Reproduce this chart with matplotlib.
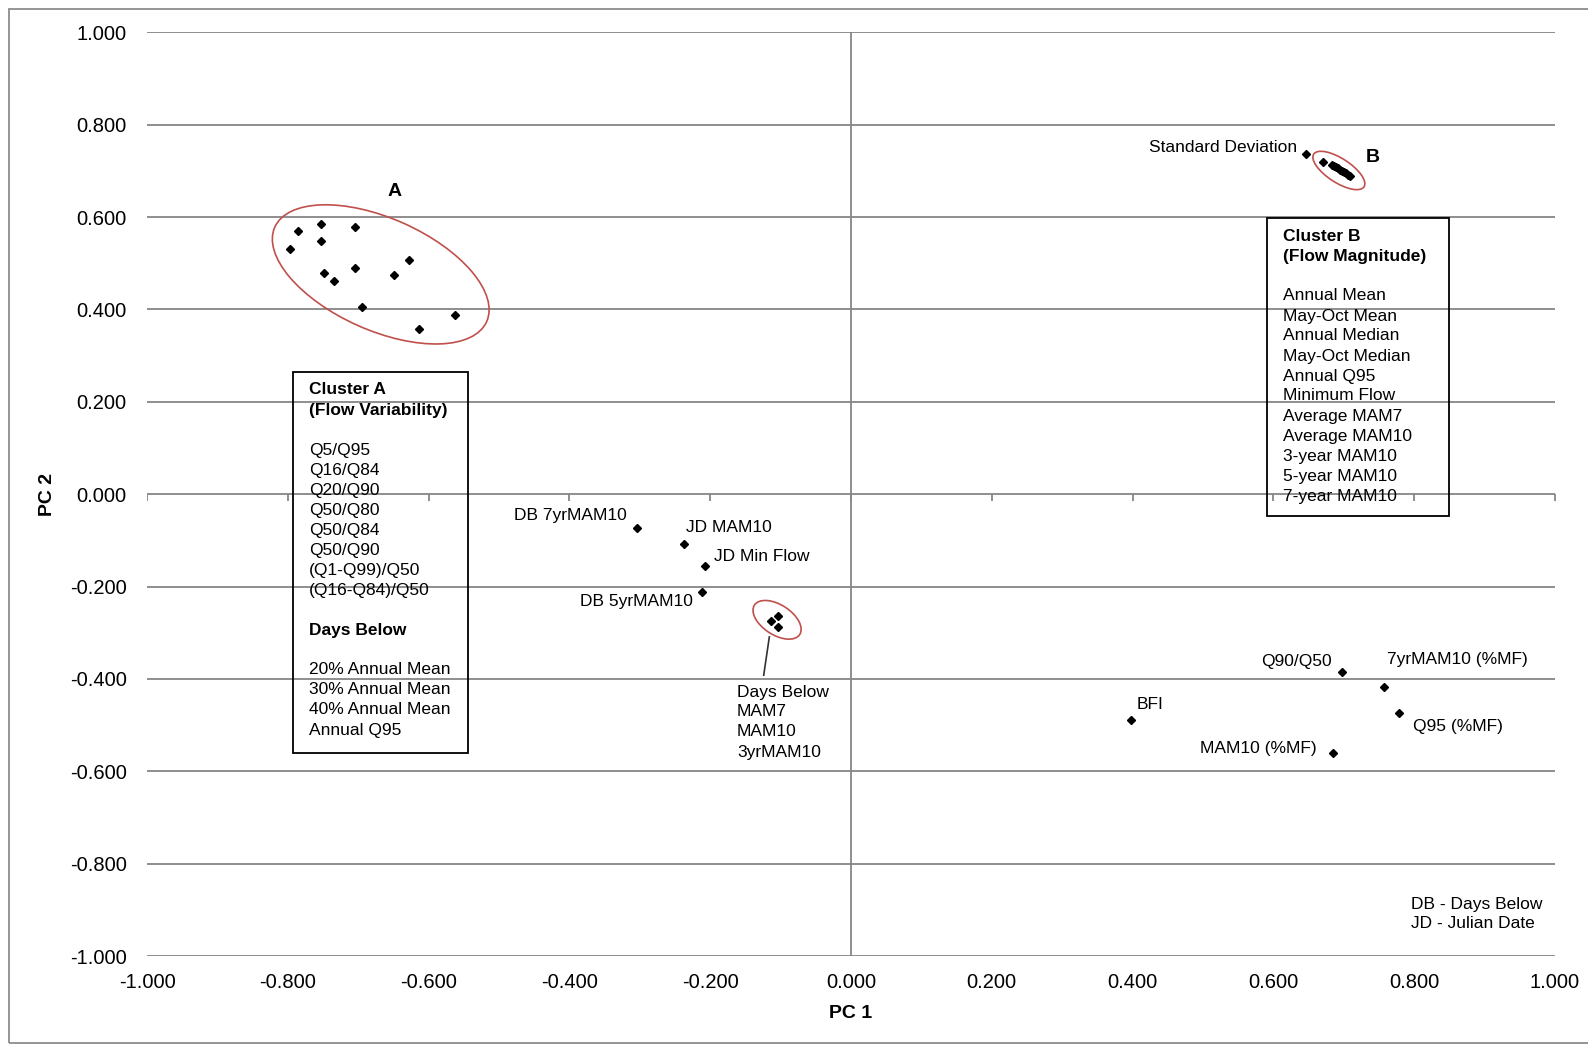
import matplotlib
matplotlib.use("Agg")
import matplotlib.pyplot as plt
import numpy as np
from matplotlib.patches import Ellipse, Rectangle
from matplotlib.transforms import ScaledTranslation

plt.rcParams['font.family'] = ['Liberation Sans', 'DejaVu Sans']

# cluster A (flow variability) and cluster B (flow magnitude) scores
clusterA_x = [-0.785, -0.753, -0.704, -0.797, -0.753, -0.628, -0.748, -0.704, -0.649, -0.734, -0.695, -0.562, -0.613]
clusterA_y = [0.571, 0.585, 0.578, 0.531, 0.549, 0.507, 0.479, 0.489, 0.475, 0.462, 0.405, 0.387, 0.358]
clusterB_x = [0.671, 0.683, 0.686, 0.689, 0.692, 0.694, 0.697, 0.700, 0.703, 0.706, 0.709]
clusterB_y = [0.720, 0.713, 0.711, 0.708, 0.707, 0.703, 0.700, 0.698, 0.696, 0.692, 0.689]
# days below MAM7 / MAM10 / 3yrMAM10
days_x = [-0.113, -0.103, -0.104]
days_y = [-0.274, -0.263, -0.288]

# single labelled points
names = ['Standard Deviation', 'DB 7yrMAM10', 'JD MAM10', 'JD Min Flow', 'DB 5yrMAM10',
         'Q90/Q50', '7yrMAM10 (%MF)', 'Q95 (%MF)', 'BFI', 'MAM10 (%MF)']
pts_x = [0.647, -0.304, -0.237, -0.208, -0.211, 0.697, 0.757, 0.778, 0.398, 0.685]
pts_y = [0.737, -0.074, -0.108, -0.155, -0.211, -0.384, -0.417, -0.473, -0.488, -0.561]
# label offsets in pixels (up positive) and alignment
offs = [(-9, 6, 'right'), (-10, 13, 'right'), (2, 17, 'left'), (9, 9, 'left'), (-10, -10, 'right'),
        (-10, 10, 'right'), (3, 27, 'left'), (14, -14, 'left'), (5, 15, 'left'), (-17, 5, 'right')]

clusterA_list = ['Q5/Q95', 'Q16/Q84', 'Q20/Q90', 'Q50/Q80', 'Q50/Q84', 'Q50/Q90',
                 '(Q1-Q99)/Q50', '(Q16-Q84)/Q50']
daysbelow_list = ['20% Annual Mean', '30% Annual Mean', '40% Annual Mean', 'Annual Q95']
clusterB_list = ['Annual Mean', 'May-Oct Mean', 'Annual Median', 'May-Oct Median', 'Annual Q95',
                 'Minimum Flow', 'Average MAM7', 'Average MAM10', '3-year MAM10',
                 '5-year MAM10', '7-year MAM10']

W, H = 1588, 1047
def fx(px):
    return px / W
def fy(py):
    return 1 - py / H

FS = 12.5

fig = plt.figure(figsize=(W / 100, H / 100), dpi=100)
ax = fig.add_axes([fx(147), fy(956), (1555 - 147) / W, (956 - 32.4) / H])

grid_c = '#868686'
ticks = np.round(np.arange(-1, 1.01, 0.2), 1)
ticks[np.abs(ticks) < 1e-9] = 0.0
tlabels = ['%.3f' % abs(t) if abs(t) < 1e-9 else '%.3f' % t for t in ticks]
ax.set_xlim(-1, 1)
ax.set_ylim(-1, 1)
ax.set_xticks(ticks)
ax.set_yticks(ticks)
ax.set_xticklabels(tlabels)
ax.set_yticklabels(tlabels)
ax.tick_params(length=0, labelsize=14.5)
ax.tick_params(axis='y', pad=14.5)
ax.tick_params(axis='x', pad=12)
for s in ax.spines.values():
    s.set_visible(False)
ax.yaxis.grid(True, color=grid_c, lw=1.3)
ax.set_axisbelow(True)
ax.axvline(0, color=grid_c, lw=1.3, zorder=1)
# tick marks on the zero x axis
ax.plot(ticks, np.zeros_like(ticks), ls='none', marker=3, ms=5, mew=1.3, color=grid_c, zorder=1)

mk = dict(ls='none', marker='D', ms=3.6, color='black', zorder=3)
ax.plot(clusterA_x, clusterA_y, **mk)
ax.plot(clusterB_x, clusterB_y, **mk)
ax.plot(days_x, days_y, **mk)
ax.plot(pts_x, pts_y, **mk)

for n, x, y, (dx, dy, ha) in zip(names, pts_x, pts_y, offs):
    ax.annotate(n, (x, y), xytext=(dx, dy), textcoords='offset pixels',
                ha=ha, va='center', fontsize=FS)

# ellipses drawn in pixel units around data centres
def ring(cx, cy, a, b, ang):
    e = Ellipse((0, 0), 2 * a / 100, 2 * b / 100, angle=ang, fill=False,
                ec='#C0504D', lw=1.2, zorder=2,
                transform=fig.dpi_scale_trans + ScaledTranslation(cx, cy, ax.transData))
    ax.add_patch(e)

ring(-0.668, 0.476, 116, 56, -24)
ring(0.693, 0.701, 30, 12, -33)
ring(-0.105, -0.272, 27, 15, -33)

# leader line for days below group
ax.plot([-0.116, -0.124], [-0.309, -0.392], color='#333333', lw=1.2, zorder=2)
for i, t in enumerate(['Days Below', 'MAM7', 'MAM10', '3yrMAM10']):
    fig.text(fx(737), fy(692 + 20 * i), t, fontsize=FS, va='center')

fig.text(fx(395), fy(192), 'A', fontsize=14, fontweight='bold', ha='center', va='center')
fig.text(fx(1373), fy(158), 'B', fontsize=14, fontweight='bold', ha='center', va='center')

# cluster A box
fig.patches.append(Rectangle((fx(293), fy(752.7)), (468.3 - 293) / W, (752.7 - 372.3) / H,
                             fill=False, ec='black', lw=1.3, transform=fig.transFigure))
linesA = [('Cluster A', 'bold'), ('(Flow Variability)', 'bold'), ('', 'normal')]
linesA += [(t, 'normal') for t in clusterA_list]
linesA += [('', 'normal'), ('Days Below', 'bold'), ('', 'normal')]
linesA += [(t, 'normal') for t in daysbelow_list]
for i, (t, w) in enumerate(linesA):
    fig.text(fx(309), fy(390 + 20 * i), t, fontsize=FS, fontweight=w, va='center')

# cluster B box
fig.patches.append(Rectangle((fx(1267.3), fy(516)), (1449 - 1267.3) / W, (516 - 218.3) / H,
                             fill=False, ec='black', lw=1.3, transform=fig.transFigure))
linesB = [('Cluster B', 'bold'), ('(Flow Magnitude)', 'bold'), ('', 'normal')]
linesB += [(t, 'normal') for t in clusterB_list]
for i, (t, w) in enumerate(linesB):
    fig.text(fx(1282.7), fy(236 + 20 * i), t, fontsize=FS, fontweight=w, va='center')

fig.text(fx(1411), fy(904), 'DB - Days Below', fontsize=FS, va='center')
fig.text(fx(1411), fy(924), 'JD - Julian Date', fontsize=FS, va='center')

fig.text(fx(851), fy(1013), 'PC 1', fontsize=14, fontweight='bold', ha='center', va='center')
fig.text(fx(48), fy(495), 'PC 2', fontsize=14, fontweight='bold', ha='center', va='center',
         rotation=90)

# outer chart border
fig.patches.append(Rectangle((fx(8.5), fy(1043)), (1600 - 8.5) / W, (1043 - 9.3) / H,
                             fill=False, ec='#8c8c8c', lw=1.3, transform=fig.transFigure))

fig.savefig('out.png', dpi=100)
